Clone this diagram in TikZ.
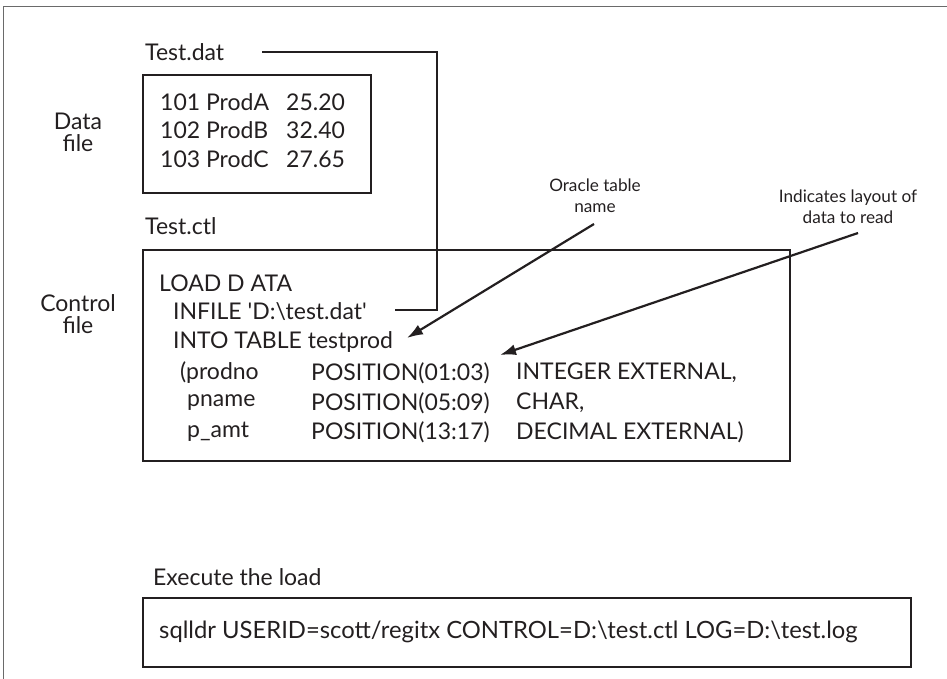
\documentclass[tikz,border=0pt]{standalone}
\usepackage{fontspec}
\setmainfont{Lato}
\usetikzlibrary{arrows.meta}
\definecolor{ink}{HTML}{231F20}
\definecolor{framecol}{HTML}{6A6A6A}
\tikzset{
  txt/.style={inner sep=0pt, anchor=west, text=ink, font=\fontsize{23}{27}\selectfont},
  lbl/.style={inner sep=0pt, align=center, text=ink, font=\fontsize{23}{22}\selectfont},
  note/.style={inner sep=0pt, align=center, text=ink, font=\fontsize{17.2}{21}\selectfont},
  boxline/.style={draw=ink, line width=2.2pt},
  conn/.style={draw=ink, line width=2.2pt},
  pointer/.style={draw=ink, line width=2.2pt, -{Latex[length=16pt,width=11pt]}}
}
\begin{document}
\begin{tikzpicture}[x=1pt,y=-1pt]
\useasboundingbox (0,0) rectangle (947,679);
% outer frame
\draw[framecol, line width=1.5pt] (3.5,679) -- (3.5,6.5) -- (947,6.5);
% data file
\node[txt] (testdat) at (145,52) {Test.dat};
\draw[boxline] (143,75) rectangle (371,193);
\node[txt] (r1) at (160,102) {101 ProdA};
\node[txt] (v1) at (286,102) {25.20};
\node[txt] (r2) at (160,130) {102 ProdB};
\node[txt] (v2) at (286,130) {32.40};
\node[txt] (r3) at (160,159) {103 ProdC};
\node[txt] (v3) at (286,159) {27.65};
\node[lbl] (datafile) at (78,132) {Data\\file};
% control file
\node[txt] (testctl) at (145,226) {Test.ctl};
\draw[boxline] (143,250) rectangle (790,461);
\node[lbl] (ctlfile) at (78,314) {Control\\file};
\node[txt] (load) at (159,283) {LOAD D ATA};
\node[txt] (infile) at (173,312) {INFILE \textquotesingle D:\textbackslash test.dat\textquotesingle};
\node[txt] (into) at (173,342) {INTO TABLE testprod};
\node[txt] (c11) at (180,373) {(prodno};
\node[txt] (c12) at (311,373) {POSITION(01:03)};
\node[txt] (c13) at (516,373) {INTEGER EXTERNAL,};
\node[txt] (c21) at (187,403) {pname};
\node[txt] (c22) at (311,403) {POSITION(05:09)};
\node[txt] (c23) at (516,403) {CHAR,};
\node[txt] (c31) at (187,432) {p\_amt};
\node[txt] (c32) at (311,432) {POSITION(13:17)};
\node[txt] (c33) at (516,432) {DECIMAL EXTERNAL)};
% connector Test.dat -> INFILE
\coordinate (tdstart) at (262,52);
\coordinate (bendpt) at (437,52);
\coordinate (infend) at (395,310);
\draw[conn] (tdstart) -- (bendpt) |- (infend);
% annotations
\node[note] (oracle) at (595,196) {Oracle table\\name};
\node[note] (layout) at (848,207) {Indicates layout of\\data to read};
\coordinate (oracletail) at (594,224);
\coordinate (oraclehead) at (407,338);
\coordinate (layouttail) at (858,233);
\coordinate (layouthead) at (500,355);
\draw[pointer] (oracletail) -- (oraclehead);
\draw[pointer] (layouttail) -- (layouthead);
% execute
\node[txt] (exec) at (153,577) {Execute the load};
\draw[boxline] (143,598) rectangle (911,667);
\node[txt, font=\fontsize{23.8}{27}\selectfont] (cmd) at (159,632) {sqlldr USERID=scott/regitx CONTROL=D:\textbackslash test.ctl LOG=D:\textbackslash test.log};
\end{tikzpicture}
\end{document}
